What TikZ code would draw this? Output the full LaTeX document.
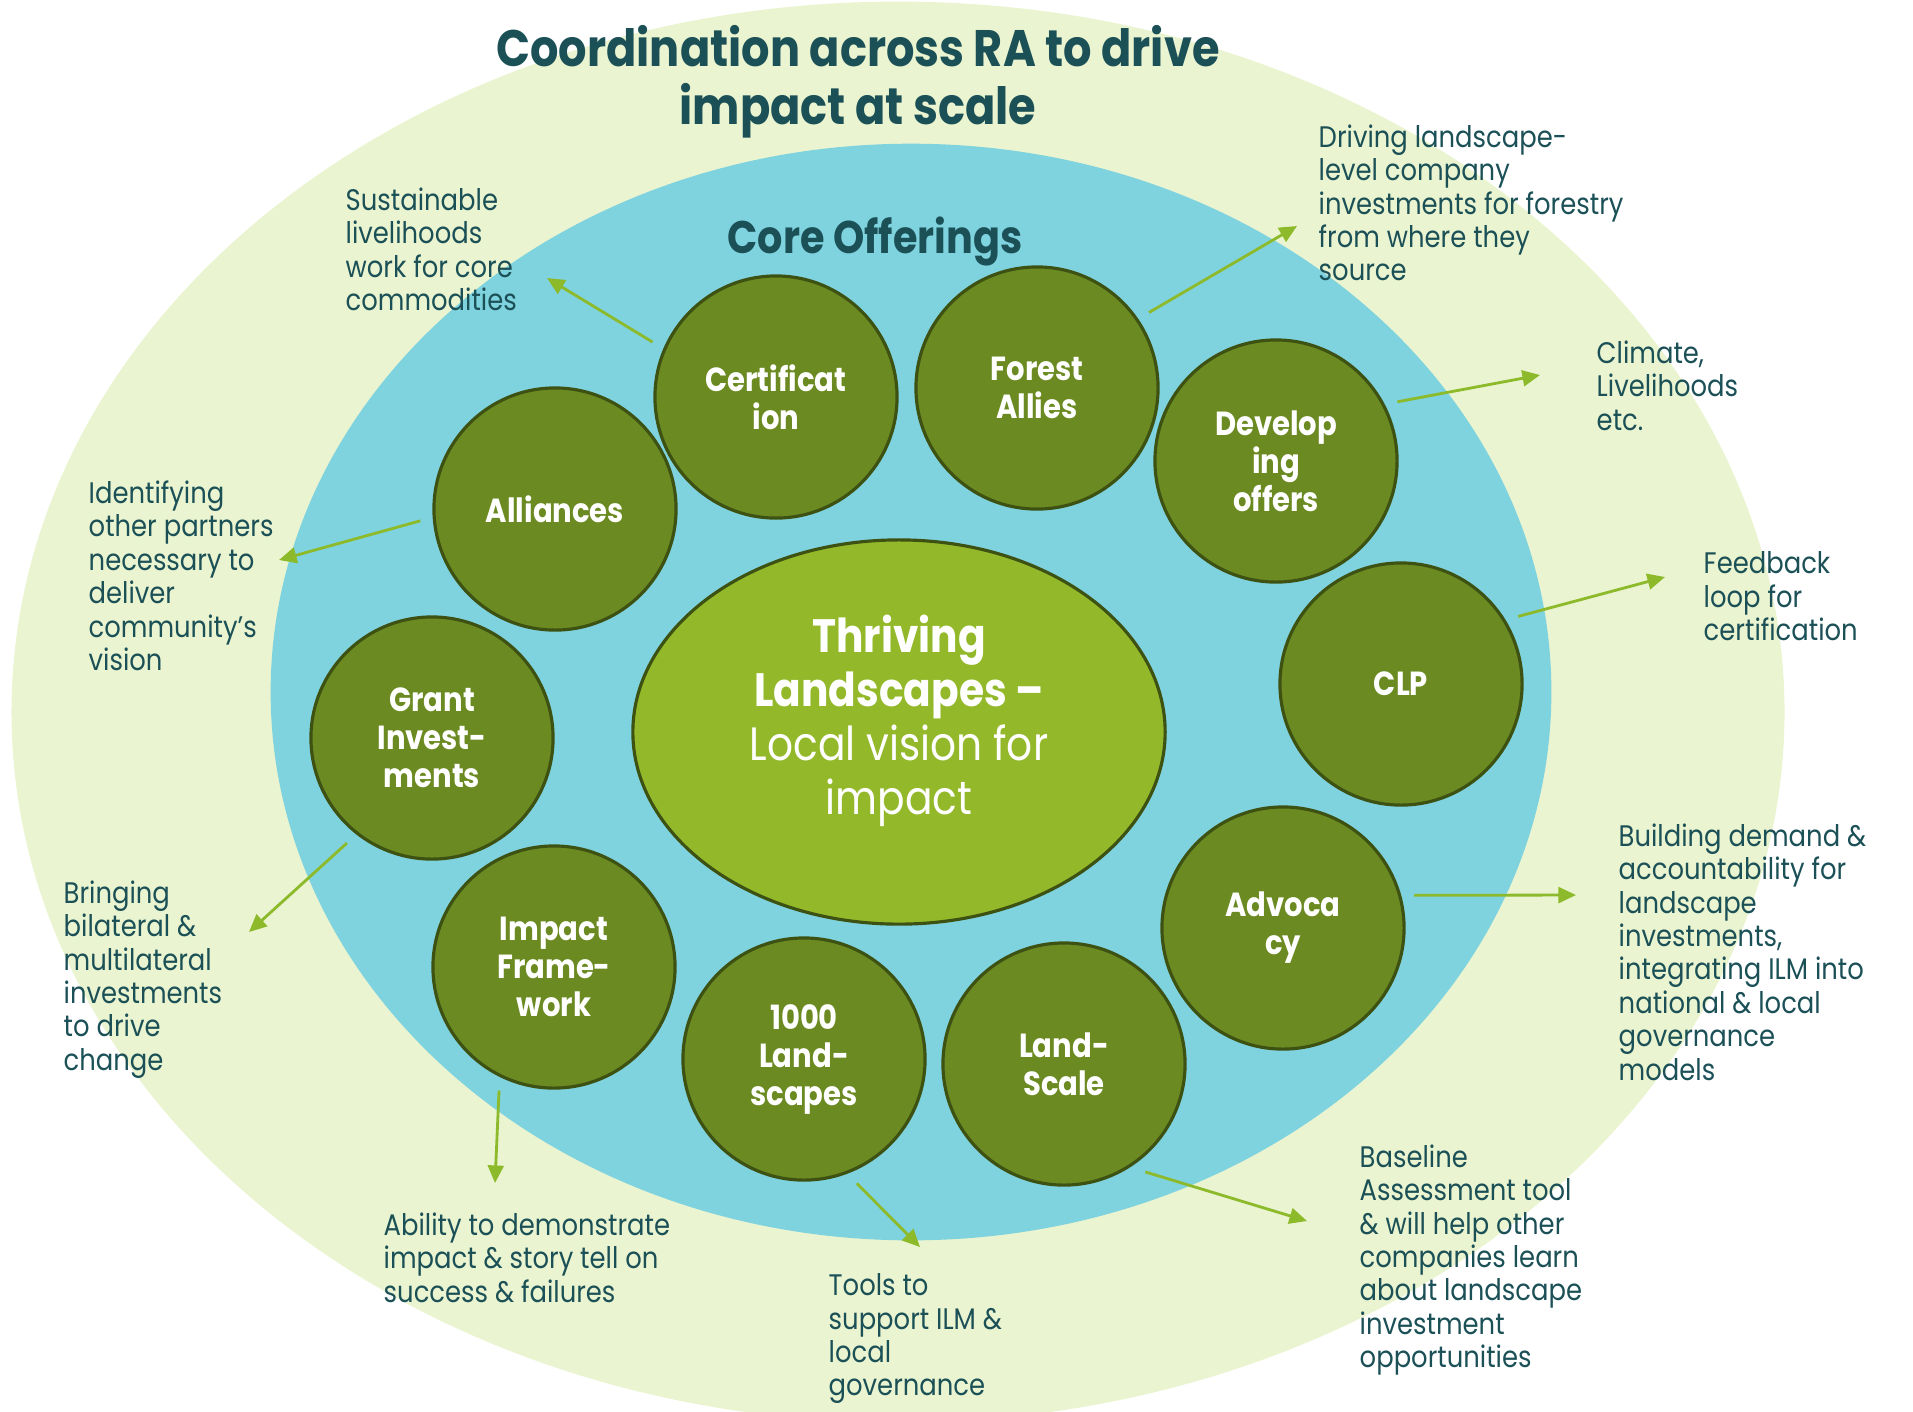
\documentclass[tikz,border=0pt]{standalone}
\usepackage{fontspec}
\setmainfont{Poppins}[FakeStretch=0.87]
\usetikzlibrary{shapes.geometric,arrows.meta}

\definecolor{paleground}{HTML}{EAF4D0}
\definecolor{coreblue}{HTML}{7FD3DF}
\definecolor{hubgreen}{HTML}{93B92A}
\definecolor{offerolive}{HTML}{6B8A21}
\definecolor{offerrim}{HTML}{3D5212}
\definecolor{arrowgreen}{HTML}{8DBA2A}
\definecolor{darkteal}{HTML}{1B5057}

\begin{document}
\begin{tikzpicture}[x=0.01cm, y=-0.01cm,
	offer/.style={circle, draw=offerrim, line width=0.9pt, fill=offerolive, minimum size=2.42cm, inner sep=0pt, outer sep=4pt, text=white, align=center, font=\bfseries\fontsize{9.5}{10.8}\selectfont},
	hub/.style={ellipse, draw=offerrim, line width=0.9pt, fill=hubgreen, minimum width=5.32cm, minimum height=3.84cm},
	note/.style={anchor=north west, inner sep=0pt, text=darkteal, align=left, font=\fontsize{8.45}{9.5}\selectfont},
	arr/.style={-{Triangle[length=5pt,width=4.5pt]}, draw=arrowgreen, fill=arrowgreen, line width=0.8pt}]
	\useasboundingbox (0,0) rectangle (1913,1411);

	% background rings
	\fill[paleground] (898,712) ellipse [x radius=8.86cm, y radius=7.10cm];
	\fill[coreblue] (911,692) ellipse [x radius=6.40cm, y radius=5.48cm];

	\node[text=darkteal, align=center, font=\bfseries\fontsize{14.6}{16.6}\selectfont] (title) at (858,82) {Coordination across RA to drive\\impact at scale};
	\node[text=darkteal, font=\bfseries\fontsize{13}{14}\selectfont] (core) at (875,241) {Core Offerings};

	\node[hub] (hub) at (899,732) {};
	\node[text=white, align=center, font=\fontsize{13.3}{15.3}\selectfont] (hub-label) at (899,721) {\textbf{Thriving}\\\textbf{Landscapes –}\\Local vision for\\impact};

	\node[offer] (cert) at (776,397) {Certificat\\ion};
	\node[offer] (forest) at (1037,388) {Forest\\Allies};
	\node[offer] (develop) at (1276,461) {Develop\\ing\\offers};
	\node[offer] (clp) at (1401,684) {CLP};
	\node[offer] (advocacy) at (1283,928) {Advoca\\cy};
	\node[offer] (landscale) at (1064,1064) {Land-\\Scale};
	\node[offer] (thousand) at (804,1059) {1000\\Land-\\scapes};
	\node[offer] (impact) at (554,967) {Impact\\Frame-\\work};
	\node[offer] (grant) at (432,738) {Grant\\Invest-\\ments};
	\node[offer] (alliances) at (555,509) {Alliances};

	\node[note] (sust) at (345,187) {Sustainable\\livelihoods\\work for core\\commodities};
	\node[note] (driving) at (1318,124) {Driving landscape-\\level company\\investments for forestry\\from where they\\source};
	\node[note] (climate) at (1596,340) {Climate,\\Livelihoods\\etc.};
	\node[note] (feedback) at (1703,551) {Feedback\\loop for\\certification};
	\node[note] (building) at (1618,823) {Building demand \&\\accountability for\\landscape\\investments,\\integrating ILM into\\national \& local\\governance\\models};
	\node[note] (baseline) at (1359,1144) {Baseline\\Assessment tool\\\& will help other\\companies learn\\about landscape\\investment\\opportunities};
	\node[note] (tools) at (828,1273) {Tools to\\support ILM \&\\local\\governance};
	\node[note] (ability) at (383,1212) {Ability to demonstrate\\impact \& story tell on\\success \& failures};
	\node[note] (bringing) at (63,880) {Bringing\\bilateral \&\\multilateral\\investments\\to drive\\change};
	\node[note] (identifying) at (88,480) {Identifying\\other partners\\necessary to\\deliver\\community’s\\vision};

	\coordinate (sust-in) at (547,278);
	\coordinate (driving-in) at (1297,226);
	\coordinate (climate-in) at (1540,375);
	\coordinate (feedback-in) at (1665,577);
	\coordinate (building-in) at (1576,895);
	\coordinate (baseline-in) at (1307,1221);
	\coordinate (tools-in) at (920,1247);
	\coordinate (ability-in) at (495,1183);
	\coordinate (bringing-in) at (249,932);
	\coordinate (identifying-in) at (279,560);

	\draw[arr] (cert.156) -- (sust-in);
	\draw[arr] (forest.34) -- (driving-in);
	\draw[arr] (develop.26) -- (climate-in);
	\draw[arr] (clp.30) -- (feedback-in);
	\draw[arr] (advocacy.14) -- (building-in);
	\draw[arr] (landscale.-53) -- (baseline-in);
	\draw[arr] (thousand.-67) -- (tools-in);
	\draw[arr] (impact.-114) -- (ability-in);
	\draw[arr] (grant.-129) -- (bringing-in);
	\draw[arr] (alliances.185) -- (identifying-in);
\end{tikzpicture}
\end{document}
